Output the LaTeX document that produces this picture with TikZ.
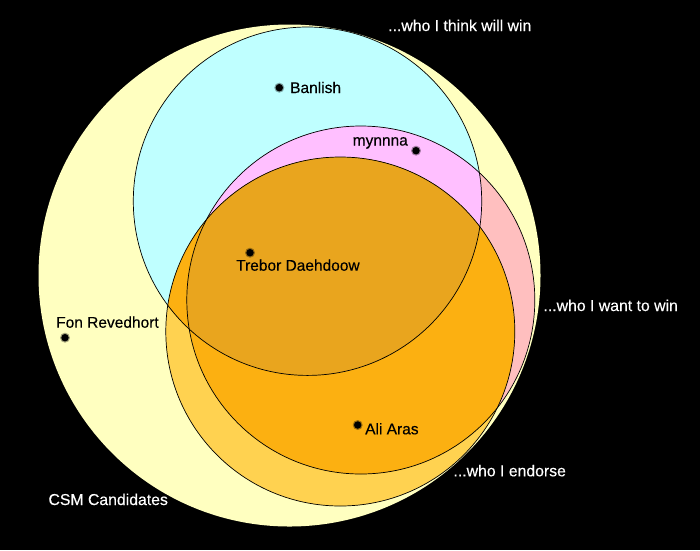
\documentclass[tikz,border=0pt]{standalone}
\usepackage{fontspec}
\setmainfont{Liberation Sans}
\newfontfamily\heavyfont{Liberation Sans}[FakeBold=0.3]
\definecolor{csmyellow}{RGB}{255,255,192}
\definecolor{thinkcyan}{RGB}{191,255,255}
\definecolor{wantsalmon}{RGB}{255,191,191}
\definecolor{wantmagenta}{RGB}{255,191,255}
\definecolor{endlight}{RGB}{255,210,80}
\definecolor{endmid}{RGB}{252,176,17}
\definecolor{enddark}{RGB}{233,165,30}
\begin{document}
\begin{tikzpicture}[x=1pt,y=-1pt,
  ring/.style={draw=black,line width=0.7pt},
  dot/.style={circle,fill=black,inner sep=0pt,minimum size=7.5pt},
  halo/.style={circle,fill=black,fill opacity=0.35,inner sep=0pt,minimum size=10pt},
  darklabel/.style={anchor=base west,inner sep=0pt,text=black,font=\heavyfont\fontsize{15.5}{18}\selectfont},
  whitelabel/.style={anchor=base west,inner sep=0pt,text=white,font=\heavyfont\fontsize{15.8}{18}\selectfont}]
\useasboundingbox (0,0) rectangle (700,550);
\fill[black] (0,0) rectangle (700,550);
% coordinates of circle centres
\coordinate (cY) at (289.5,275.5);
\coordinate (cT) at (307.5,201.2);
\coordinate (cW) at (360.8,300);
\coordinate (cE) at (340.3,331.5);
% CSM candidates
\fill[csmyellow] (cY) circle[radius=251];
% who I think will win
\fill[thinkcyan] (cT) circle[radius=174.2];
% who I want to win
\fill[wantsalmon] (cW) circle[radius=174];
\begin{scope}
  \clip (cW) circle[radius=174];
  \fill[wantmagenta] (cT) circle[radius=174.2];
\end{scope}
% who I endorse
\fill[endlight] (cE) circle[radius=174.5];
\begin{scope}
  \clip (cE) circle[radius=174.5];
  \fill[endmid] (cT) circle[radius=174.2];
  \fill[endmid] (cW) circle[radius=174];
  \clip (cT) circle[radius=174.2];
  \fill[enddark] (cW) circle[radius=174];
\end{scope}
% outlines
\draw[ring] (cT) circle[radius=174.2];
\draw[ring] (cW) circle[radius=174];
\draw[ring] (cE) circle[radius=174.5];
% candidates
\node[halo] (banlishhalo) at (279.3,87.7) {};
\node[dot] (banlishdot) at (279.3,87.7) {};
\node[darklabel] (banlish) at (290,93) {Banlish};
\node[halo] (mynnnahalo) at (416,150.7) {};
\node[dot] (mynnnadot) at (416,150.7) {};
\node[darklabel] (mynnna) at (352.5,145.5) {mynnna};
\node[halo] (treborhalo) at (250,252.7) {};
\node[dot] (trebordot) at (250,252.7) {};
\node[darklabel] (trebor) at (236,270.7) {Trebor Daehdoow};
\node[halo] (fonhalo) at (65,337.7) {};
\node[dot] (fondot) at (65,337.7) {};
\node[darklabel] (fon) at (56,327.7) {Fon Revedhort};
\node[halo] (alihalo) at (357.7,425) {};
\node[dot] (alidot) at (357.7,425) {};
\node[darklabel] (ali) at (365,434.3) {Ali Aras};
% set labels
\node[whitelabel] (thinklabel) at (388,31) {...who I think will win};
\node[whitelabel] (wantlabel) at (543.3,311) {...who I want to win};
\node[whitelabel] (endorselabel) at (453.3,476.3) {...who I endorse};
\node[whitelabel] (csmlabel) at (48.3,505) {CSM Candidates};
\end{tikzpicture}
\end{document}
